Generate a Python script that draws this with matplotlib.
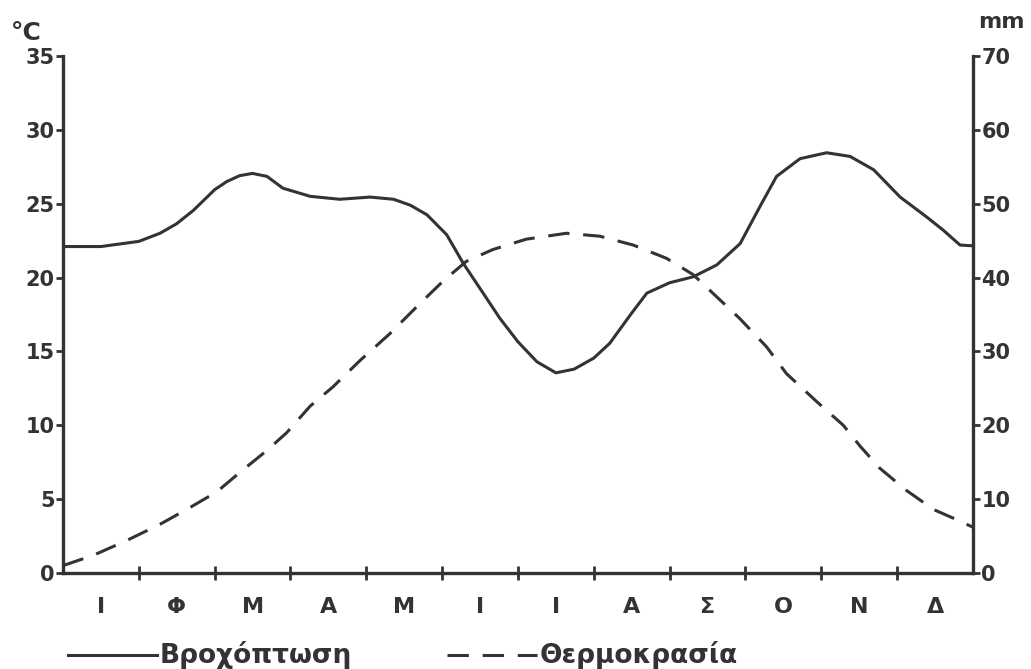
import matplotlib.pyplot as plt
import numpy as np
from matplotlib.lines import Line2D

plt.rcParams['font.family'] = ['DejaVu Sans']

ink = '#333333'

# μήνες (αρχικά)
months = ['Ι', 'Φ', 'Μ', 'Α', 'Μ', 'Ι', 'Ι', 'Α', 'Σ', 'Ο', 'Ν', 'Δ']

# βροχόπτωση (mm): θέση μέσα στο έτος σε μήνες (0 = αρχή Ιαν., 12 = τέλος Δεκ.)
rain_t = [0, 0.5, 1.0, 1.28, 1.5, 1.72, 2.0, 2.16, 2.33, 2.5, 2.69, 2.9, 3.26,
          3.65, 4.05, 4.36, 4.58, 4.8, 5.06, 5.28, 5.54, 5.76, 6.0, 6.25, 6.5,
          6.74, 7.0, 7.21, 7.5, 7.7, 8.0, 8.31, 8.62, 8.93, 9.19, 9.41, 9.72,
          10.07, 10.38, 10.69, 11.04, 11.39, 11.61, 11.83, 12.0]
rain_mm = [44.2, 44.2, 44.9, 46.0, 47.3, 49.1, 51.9, 53.0, 53.8, 54.1, 53.7,
           52.1, 51.0, 50.6, 50.9, 50.6, 49.8, 48.5, 45.8, 41.9, 37.9, 34.5,
           31.3, 28.6, 27.1, 27.6, 29.1, 31.1, 35.2, 37.9, 39.3, 40.1, 41.7,
           44.6, 49.6, 53.7, 56.1, 56.9, 56.4, 54.6, 50.9, 48.2, 46.4, 44.4, 44.3]

# θερμοκρασία (°C)
temp_t = [0, 0.4, 0.84, 1.28, 1.63, 2.03, 2.33, 2.69, 2.95, 3.26, 3.56, 3.92,
          4.31, 4.66, 5.02, 5.32, 5.67, 6.11, 6.64, 7.08, 7.52, 7.96, 8.31,
          8.62, 8.93, 9.28, 9.54, 9.94, 10.29, 10.51, 10.77, 11.12, 11.48,
          11.79, 12.0]
temp_c = [0.5, 1.2, 2.2, 3.3, 4.3, 5.5, 6.8, 8.3, 9.5, 11.3, 12.6, 14.4, 16.2,
          18.0, 19.8, 21.1, 21.9, 22.6, 23.0, 22.8, 22.2, 21.3, 20.2, 18.7,
          17.2, 15.3, 13.5, 11.6, 10.0, 8.6, 7.1, 5.6, 4.3, 3.6, 3.1]

dash = (7, 4.5)

fig = plt.figure(figsize=(10.31, 6.69), dpi=100)
ax = fig.add_axes([0.0611, 0.1435, 0.8826, 0.7728])
ax2 = ax.twinx()

ax.plot(temp_t, temp_c, color=ink, lw=2.2, dashes=dash)
ax2.plot(rain_t, rain_mm, color=ink, lw=2.2, solid_joinstyle='round')

ax.set_xlim(0, 12)
ax.set_ylim(0, 35)
ax2.set_ylim(0, 70)

ax.set_yticks(range(0, 36, 5))
ax2.set_yticks(range(0, 71, 10))
ax.set_xticks(range(1, 12))
ax.set_xticklabels([])
ax.set_xticks(np.arange(0.5, 12, 1), minor=True)
ax.set_xticklabels(months, minor=True)

lab = dict(labelcolor=ink, color=ink, width=2)
ax.tick_params(axis='y', direction='out', length=5, pad=1, labelsize=15, **lab)
ax2.tick_params(axis='y', direction='out', length=5, pad=1, labelsize=15, **lab)
ax.tick_params(axis='x', which='major', direction='inout', length=10, **lab)
ax.tick_params(axis='x', which='minor', length=0, pad=17, labelsize=16, **lab)
for t in ax.get_yticklabels() + ax2.get_yticklabels() + ax.get_xticklabels(minor=True):
    t.set_fontweight('bold')

for a in (ax, ax2):
    a.spines['top'].set_visible(False)
    for s in a.spines.values():
        s.set_color(ink)
        s.set_linewidth(2.4)
ax.spines['right'].set_visible(False)
ax2.spines['left'].set_visible(False)
ax2.spines['bottom'].set_visible(False)

fig.text(0.011, 0.940, '°C', fontsize=18, fontweight='bold', color=ink)
fig.text(0.949, 0.958, 'mm', fontsize=16, fontweight='bold', color=ink)

# υπόμνημα κάτω από τον άξονα
W, H = 1031, 669
ly = 1 - 655 / H
fig.add_artist(Line2D([68 / W, 157 / W], [ly, ly], color=ink, lw=2.2,
                      transform=fig.transFigure))
fig.text(160 / W, ly, 'Βροχόπτωση', fontsize=19, fontweight='bold',
         color=ink, va='center')
fig.add_artist(Line2D([447 / W, 537 / W], [ly, ly], color=ink, lw=2.2,
                      dashes=dash, transform=fig.transFigure))
fig.text(540 / W, ly, 'Θερμοκρασία', fontsize=19, fontweight='bold',
         color=ink, va='center')

fig.savefig('out.png', dpi=100)
